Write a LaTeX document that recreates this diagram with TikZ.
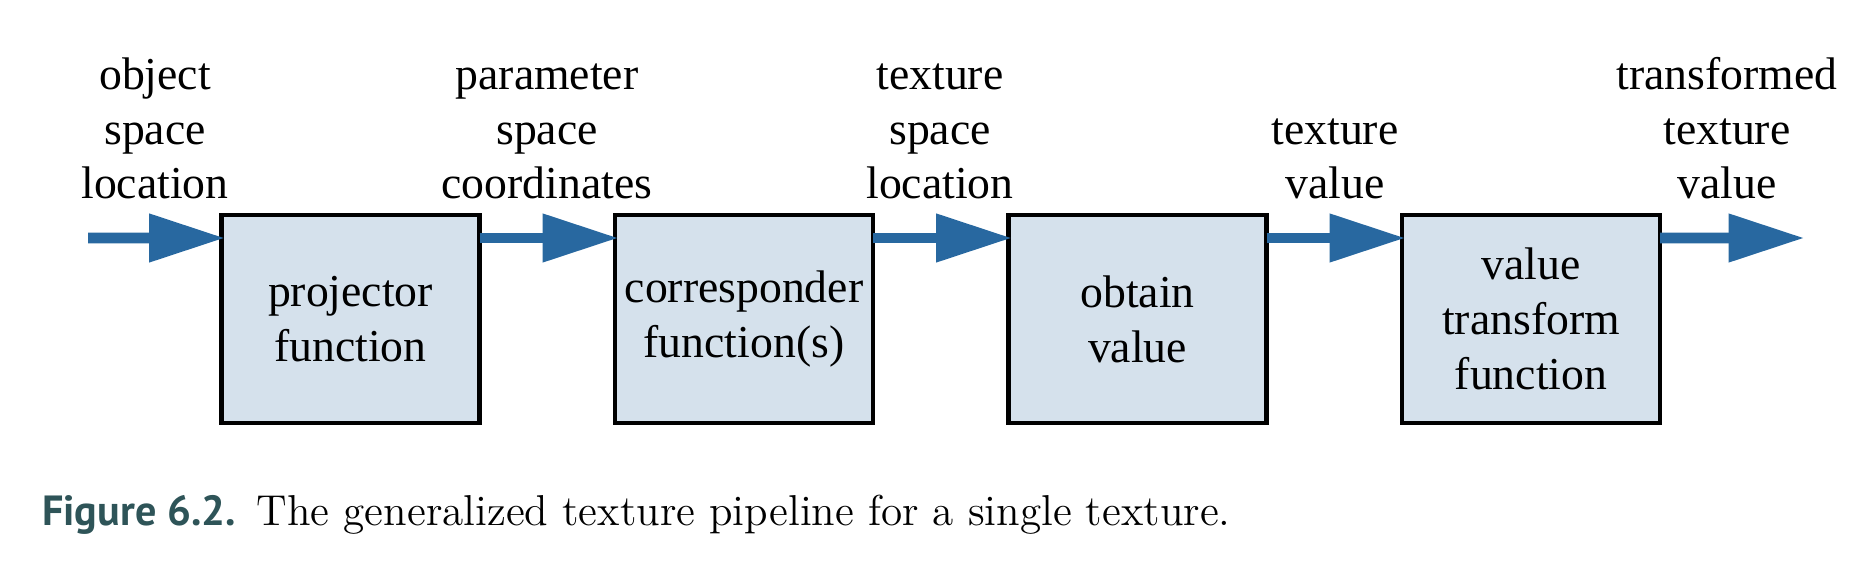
\documentclass[tikz,border=0pt]{standalone}
\usepackage{fontspec}
\usepackage{xcolor}
\usepackage{tikz}
\usetikzlibrary{arrows.meta,positioning}
\newfontfamily\boxfont{Liberation Serif}
\newfontfamily\capfont{PT Sans}
\definecolor{boxfill}{RGB}{213,225,236}
\definecolor{flowblue}{RGB}{40,104,160}
\definecolor{capteal}{RGB}{46,84,88}

\begin{document}
\begin{tikzpicture}[
    stage/.style={draw=black, fill=boxfill, line width=1.2pt, minimum width=2.58cm,
        minimum height=2.08cm, align=center, inner sep=0pt, outer sep=0pt,
        font=\boxfont\fontsize{13}{15.6}\selectfont},
    tag/.style={anchor=south, align=center, inner sep=0pt, font=\boxfont\fontsize{13}{15.6}\selectfont},
    flow/.style={draw=flowblue, line width=3.1pt, shorten >=-1pt, -{Triangle[length=0.76cm, width=0.46cm]}}
]
    \useasboundingbox (0,0) rectangle (18.58,5.74);

    \node[stage] (proj) at (3.505,2.55) {projector\\function};
    \node[stage] (corr) at (7.44,2.55) {corresponder\\function(s)};
    \node[stage] (obtain) at (11.375,2.55) {obtain\\value};
    \node[stage] (xform) at (15.31,2.55) {value\\transform\\function};

    \coordinate (in) at (0.88,3.36);
    \coordinate (out) at (18.01,3.36);

    \draw[flow] (in) -- ([yshift=-0.23cm]proj.north west);
    \draw[flow] ([yshift=-0.23cm]proj.north east) -- ([yshift=-0.23cm]corr.north west);
    \draw[flow] ([yshift=-0.23cm]corr.north east) -- ([yshift=-0.23cm]obtain.north west);
    \draw[flow] ([yshift=-0.23cm]obtain.north east) -- ([yshift=-0.23cm]xform.north west);
    \draw[flow] ([yshift=-0.23cm]xform.north east) -- (out);

    \node[tag] (objloc) at (1.55,3.74) {object\\space\\location};
    \node[tag] (parcoord) at (5.47,3.74) {parameter\\space\\coordinates};
    \node[tag] (texloc) at (9.40,3.74) {texture\\space\\location};
    \node[tag] (texval) at (13.35,3.74) {texture\\value};
    \node[tag] (outval) at (17.27,3.74) {transformed\\texture\\value};

    \node[anchor=base west, inner sep=0pt] (caption) at (0.415,0.49)
        {{\capfont\bfseries\color{capteal}\fontsize{12}{14}\selectfont Figure 6.2.}\hspace{6pt}{\fontsize{12.3}{14}\selectfont The generalized texture pipeline for a single texture.}};
\end{tikzpicture}
\end{document}
